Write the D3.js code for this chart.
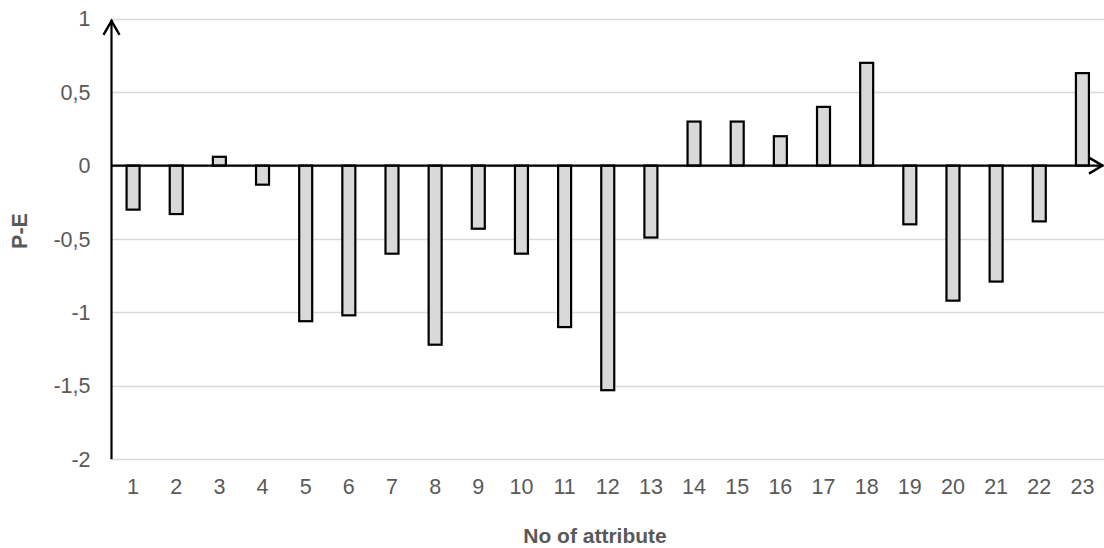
<!DOCTYPE html>
<html>
<head>
<meta charset="utf-8">
<script src="https://cdn.jsdelivr.net/npm/d3@7"></script>
<style>
  html, body { margin: 0; padding: 0; background: #fff; }
  svg { display: block; font-family: "Liberation Sans", Arial, sans-serif; }
</style>
</head>
<body>
<svg id="chart" width="1104" height="548"></svg>
<script>
const categories = ["1","2","3","4","5","6","7","8","9","10","11","12","13","14","15","16","17","18","19","20","21","22","23"];
const values = [-0.30,-0.33,0.06,-0.13,-1.06,-1.02,-0.60,-1.22,-0.43,-0.60,-1.10,-1.53,-0.49,0.30,0.30,0.20,0.40,0.70,-0.40,-0.92,-0.79,-0.38,0.63];
const yTicks = [1,0.5,0,-0.5,-1,-1.5,-2];
const xTitle = "No of attribute";
const yTitle = "P-E";

(function () {
const svg = d3.select("#chart");
const pL = 111.5, pR = 1104, pT = 18.8, pB = 459.2;

const x = d3.scaleBand().domain(categories).range([pL, pR]).paddingInner(0).paddingOuter(0);
const y = d3.scaleLinear().domain([-2, 1]).range([pB, pT]);
const fmt = v => String(v).replace(".", ",");

// gridlines
svg.append("g").selectAll("line").data(yTicks).join("line")
  .attr("x1", pL).attr("x2", pR)
  .attr("y1", d => Math.round(y(d)) + 0.5).attr("y2", d => Math.round(y(d)) + 0.5)
  .attr("stroke", "#d9d9d9").attr("stroke-width", 1.3);

// y tick labels
svg.append("g").selectAll("text").data(yTicks).join("text")
  .attr("x", 90.5).attr("y", d => y(d) + 7.6)
  .attr("text-anchor", "end").attr("font-size", 21.5).attr("fill", "#595959")
  .text(fmt);

// x tick labels
svg.append("g").selectAll("text").data(categories).join("text")
  .attr("x", d => x(d) + x.bandwidth() / 2).attr("y", 494)
  .attr("text-anchor", "middle").attr("font-size", 21.5).attr("fill", "#595959")
  .text(d => d);

// bars
const bw = 13;
svg.append("g").selectAll("rect").data(values).join("rect")
  .attr("x", (d, i) => x(categories[i]) + x.bandwidth() / 2 - bw / 2)
  .attr("y", d => y(Math.max(0, d)))
  .attr("width", bw)
  .attr("height", d => Math.abs(y(d) - y(0)))
  .attr("fill", "#d9d9d9").attr("stroke", "#000").attr("stroke-width", 2.2);

// axes with arrows
const y0 = y(0);
svg.append("line").attr("x1", pL).attr("x2", pR - 1).attr("y1", y0).attr("y2", y0)
  .attr("stroke", "#000").attr("stroke-width", 2.2);
svg.append("path").attr("d", `M${pR - 15},${y0 - 8} L${pR - 1.5},${y0} L${pR - 15},${y0 + 8}`)
  .attr("fill", "none").attr("stroke", "#000").attr("stroke-width", 2.4);
svg.append("line").attr("x1", pL).attr("x2", pL).attr("y1", pB).attr("y2", pT + 1)
  .attr("stroke", "#000").attr("stroke-width", 2.2);
svg.append("path").attr("d", `M${pL - 8},${pT + 16} L${pL},${pT + 2} L${pL + 8},${pT + 16}`)
  .attr("fill", "none").attr("stroke", "#000").attr("stroke-width", 2.4);

// titles
svg.append("text").attr("x", 595).attr("y", 542.5)
  .attr("text-anchor", "middle").attr("font-size", 21).attr("font-weight", "bold").attr("fill", "#595959")
  .text(xTitle);
svg.append("text").attr("transform", `translate(27,231) rotate(-90)`)
  .attr("text-anchor", "middle").attr("font-size", 21.5).attr("font-weight", "bold").attr("fill", "#595959")
  .text(yTitle);
})();
</script>
</body>
</html>
